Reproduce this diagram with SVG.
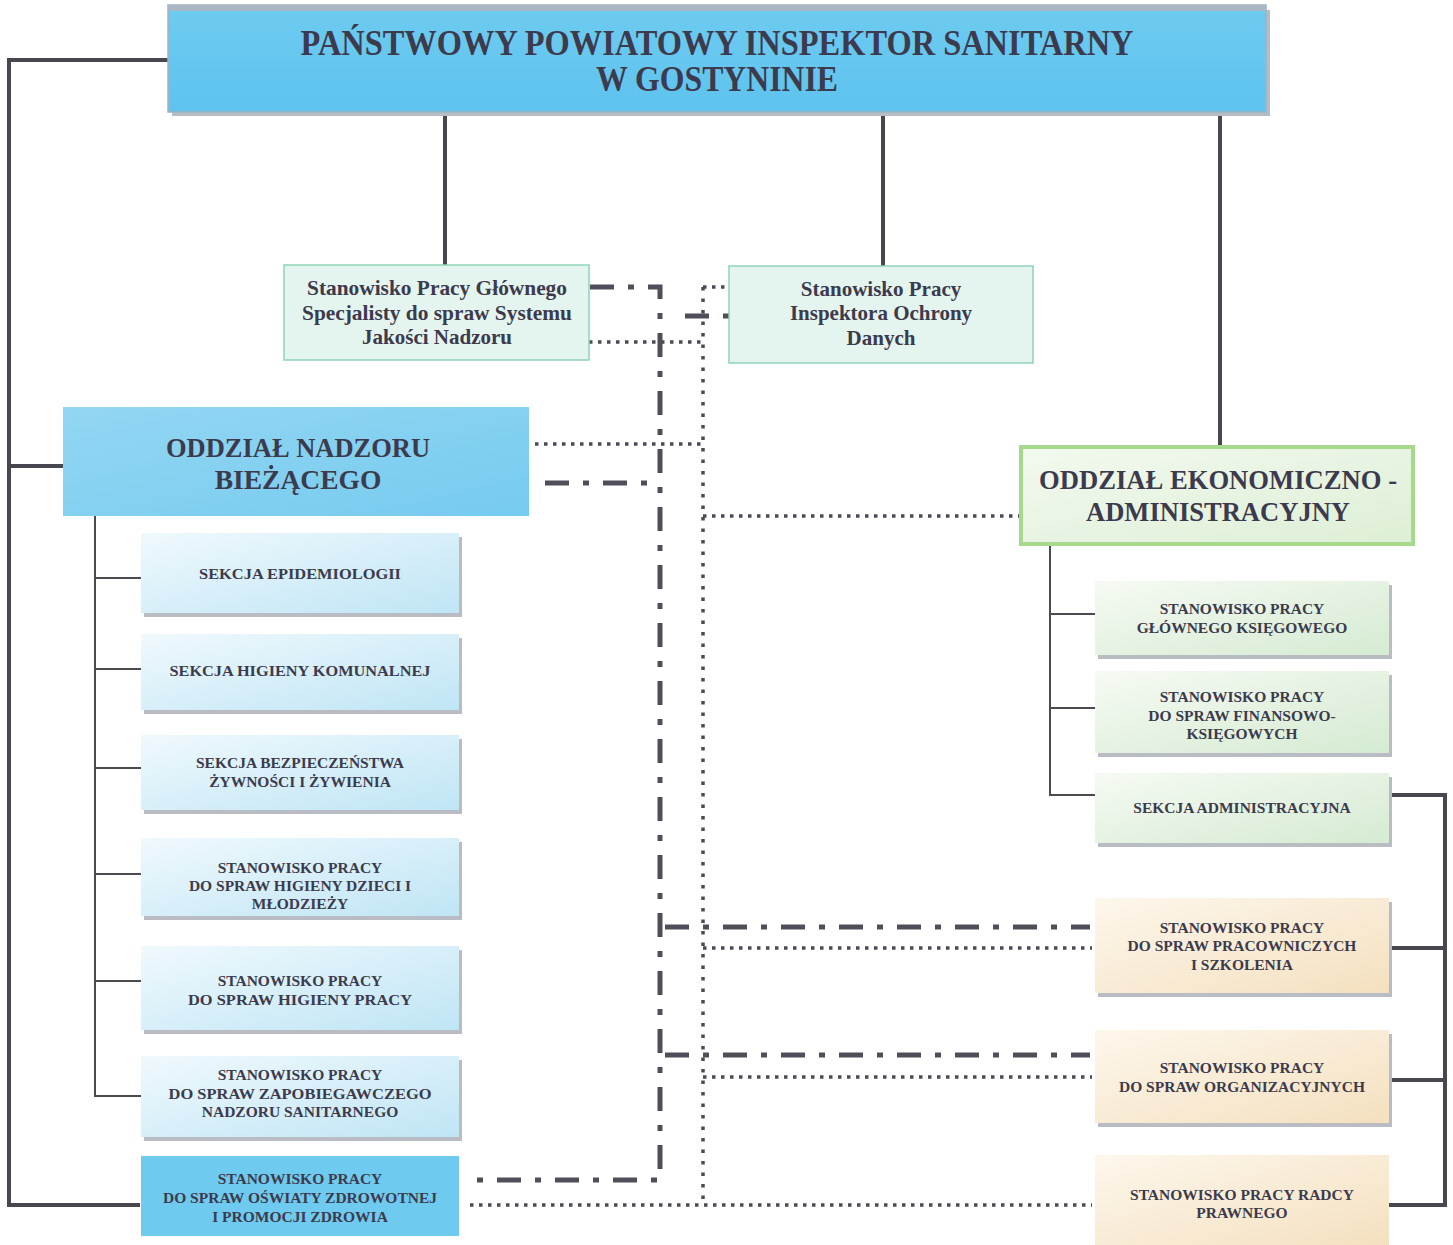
<svg xmlns="http://www.w3.org/2000/svg" width="1453" height="1245" viewBox="0 0 1453 1245">
<defs>
<linearGradient id="gBlue" x1="0" y1="0" x2="1" y2="1"><stop offset="0" stop-color="#f0f9fd"/><stop offset="1" stop-color="#bfe5f5"/></linearGradient>
<linearGradient id="gGreen" x1="0" y1="0" x2="1" y2="1"><stop offset="0" stop-color="#f6faf3"/><stop offset="1" stop-color="#d5ebd2"/></linearGradient>
<linearGradient id="gOrange" x1="0" y1="0" x2="1" y2="1"><stop offset="0" stop-color="#fdf7ec"/><stop offset="1" stop-color="#f4e0bf"/></linearGradient>
<linearGradient id="gHead" x1="0" y1="0" x2="0" y2="1"><stop offset="0" stop-color="#6ecbf0"/><stop offset="1" stop-color="#5ec3ee"/></linearGradient>
<linearGradient id="gNadzor" x1="0" y1="0" x2="1" y2="1"><stop offset="0" stop-color="#93d6f2"/><stop offset="1" stop-color="#76cbef"/></linearGradient>
<linearGradient id="gEkon" x1="0" y1="0" x2="1" y2="1"><stop offset="0" stop-color="#f3f9ef"/><stop offset="1" stop-color="#ddefd6"/></linearGradient>
</defs>
<style>
text{font-family:"Liberation Serif","Times New Roman",serif;font-weight:bold;fill:#3c3a4c;text-anchor:middle}
.t32{font-size:35px}
.t26{font-size:27.5px}
.t21{font-size:21px}
.t15{font-size:15.5px}
.shadow{fill:#b9bcc2}
.solid{stroke:#47474f;stroke-width:4;fill:none}
.thin{stroke:#4a4a52;stroke-width:2;fill:none}
.dot{stroke:#4b4b55;stroke-width:3.5;fill:none;stroke-dasharray:3.5 5.5}
.dotv{stroke:#4b4b55;stroke-width:3.5;fill:none;stroke-dasharray:3.5 8}
.dd{stroke:#4f4f5a;stroke-width:5;fill:none;stroke-dasharray:24 14 6 14}
</style>

<g id="connectors">
  <polyline class="solid" points="168,60 9,60 9,1205 140,1205"/>
  <line class="solid" x1="9" y1="466" x2="63" y2="466"/>
  <line class="solid" x1="445" y1="113" x2="445" y2="265"/>
  <line class="solid" x1="883" y1="113" x2="883" y2="266"/>
  <line class="solid" x1="1220" y1="113" x2="1220" y2="445"/>
  <polyline class="thin" points="95,516 95,1096 141,1096"/>
  <line class="thin" x1="95" y1="578" x2="141" y2="578"/>
  <line class="thin" x1="95" y1="669" x2="141" y2="669"/>
  <line class="thin" x1="95" y1="768" x2="141" y2="768"/>
  <line class="thin" x1="95" y1="874" x2="141" y2="874"/>
  <line class="thin" x1="95" y1="981" x2="141" y2="981"/>
  <polyline class="thin" points="1050,545 1050,795 1095,795"/>
  <line class="thin" x1="1050" y1="614" x2="1095" y2="614"/>
  <line class="thin" x1="1050" y1="708" x2="1095" y2="708"/>
  <polyline class="solid" points="1389,795 1445,795 1445,1205 1389,1205"/>
  <line class="solid" x1="1389" y1="948" x2="1445" y2="948"/>
  <line class="solid" x1="1389" y1="1080" x2="1445" y2="1080"/>
  <!-- dash-dot -->
  <polyline class="dd" points="590,287 660,287 660,1180 470,1180"/>
  <line class="dd" x1="685" y1="316" x2="729" y2="316"/>
  <line class="dd" x1="545" y1="483" x2="660" y2="483"/>
  <line class="dd" x1="665" y1="927" x2="1090" y2="927"/>
  <line class="dd" x1="665" y1="1055" x2="1090" y2="1055"/>
  <!-- dotted -->
  <line class="dotv" x1="703" y1="287" x2="703" y2="1205"/>
  <line class="dot" x1="703" y1="287" x2="729" y2="287"/>
  <line class="dot" x1="589" y1="342" x2="703" y2="342"/>
  <line class="dot" x1="535" y1="444" x2="703" y2="444"/>
  <line class="dot" x1="703" y1="516" x2="1019" y2="516"/>
  <line class="dot" x1="703" y1="948" x2="1092" y2="948"/>
  <line class="dot" x1="703" y1="1077" x2="1092" y2="1077"/>
  <line class="dot" x1="470" y1="1205" x2="1092" y2="1205"/>
</g>

<g id="n-head">
  <rect x="172" y="10" width="1098" height="106" fill="#b5bcc4"/>
  <rect x="168" y="5" width="1098" height="107" fill="url(#gHead)" stroke="#9fb3c3" stroke-width="1.5"/>
  <rect x="168" y="5" width="1098" height="6" fill="#aab8c6"/>
  <text class="t32" x="717" y="55" textLength="833" lengthAdjust="spacingAndGlyphs">PAŃSTWOWY POWIATOWY INSPEKTOR SANITARNY</text>
  <text class="t32" x="717" y="91" textLength="242" lengthAdjust="spacingAndGlyphs">W GOSTYNINIE</text>
</g>

<g id="n-jakosc">
  <rect x="284" y="265" width="305" height="95" fill="#e4f4ef" stroke="#8ed3b6" stroke-width="1.5"/>
  <text class="t21" x="437" y="295" textLength="260" lengthAdjust="spacingAndGlyphs">Stanowisko Pracy Głównego</text>
  <text class="t21" x="437" y="320" textLength="270" lengthAdjust="spacingAndGlyphs">Specjalisty do spraw Systemu</text>
  <text class="t21" x="437" y="344">Jakości Nadzoru</text>
</g>

<g id="n-iod">
  <rect x="729" y="266" width="304" height="97" fill="#e4f4ef" stroke="#8ed3b6" stroke-width="1.5"/>
  <text class="t21" x="881" y="296">Stanowisko Pracy</text>
  <text class="t21" x="881" y="320">Inspektora Ochrony</text>
  <text class="t21" x="881" y="345">Danych</text>
</g>

<g id="n-nadzor">
  <rect x="63" y="407" width="466" height="109" fill="url(#gNadzor)"/>
  <text class="t26" x="298" y="457" textLength="264" lengthAdjust="spacingAndGlyphs">ODDZIAŁ NADZORU</text>
  <text class="t26" x="298" y="489">BIEŻĄCEGO</text>
</g>

<g id="n-ekon">
  <rect x="1021" y="447" width="392" height="97" fill="url(#gEkon)" stroke="#a7d98c" stroke-width="4"/>
  <text class="t26" x="1218" y="489" textLength="358" lengthAdjust="spacingAndGlyphs">ODDZIAŁ EKONOMICZNO -</text>
  <text class="t26" x="1218" y="521" textLength="264" lengthAdjust="spacingAndGlyphs">ADMINISTRACYJNY</text>
</g>

<!-- left column -->
<g id="n-epid">
  <rect x="144" y="537" width="318" height="80" class="shadow"/>
  <rect x="141" y="533" width="318" height="80" fill="url(#gBlue)"/>
  <text class="t15" x="300" y="579" textLength="202" lengthAdjust="spacingAndGlyphs">SEKCJA  EPIDEMIOLOGII</text>
</g>
<g id="n-komunalna">
  <rect x="144" y="638" width="318" height="76" class="shadow"/>
  <rect x="141" y="634" width="318" height="76" fill="url(#gBlue)"/>
  <text class="t15" x="300" y="676" textLength="261" lengthAdjust="spacingAndGlyphs">SEKCJA  HIGIENY KOMUNALNEJ</text>
</g>
<g id="n-zywnosc">
  <rect x="144" y="739" width="318" height="75" class="shadow"/>
  <rect x="141" y="735" width="318" height="75" fill="url(#gBlue)"/>
  <text class="t15" x="300" y="768">SEKCJA BEZPIECZEŃSTWA</text>
  <text class="t15" x="300" y="787">ŻYWNOŚCI I ŻYWIENIA</text>
</g>
<g id="n-dzieci">
  <rect x="144" y="842" width="318" height="78" class="shadow"/>
  <rect x="141" y="838" width="318" height="78" fill="url(#gBlue)"/>
  <text class="t15" x="300" y="873">STANOWISKO PRACY</text>
  <text class="t15" x="300" y="891">DO SPRAW HIGIENY DZIECI I</text>
  <text class="t15" x="300" y="909">MŁODZIEŻY</text>
</g>
<g id="n-hpracy">
  <rect x="144" y="950" width="318" height="84" class="shadow"/>
  <rect x="141" y="946" width="318" height="84" fill="url(#gBlue)"/>
  <text class="t15" x="300" y="986">STANOWISKO PRACY</text>
  <text class="t15" x="300" y="1005" textLength="224" lengthAdjust="spacingAndGlyphs">DO SPRAW  HIGIENY PRACY</text>
</g>
<g id="n-zapob">
  <rect x="144" y="1060" width="318" height="81" class="shadow"/>
  <rect x="141" y="1056" width="318" height="81" fill="url(#gBlue)"/>
  <text class="t15" x="300" y="1080">STANOWISKO PRACY</text>
  <text class="t15" x="300" y="1099" textLength="263" lengthAdjust="spacingAndGlyphs">DO SPRAW  ZAPOBIEGAWCZEGO</text>
  <text class="t15" x="300" y="1117">NADZORU SANITARNEGO</text>
</g>
<g id="n-oswiata">
  <rect x="141" y="1156" width="318" height="80" fill="#6ecaef"/>
  <text class="t15" x="300" y="1184">STANOWISKO PRACY</text>
  <text class="t15" x="300" y="1203">DO SPRAW OŚWIATY ZDROWOTNEJ</text>
  <text class="t15" x="300" y="1222">I PROMOCJI ZDROWIA</text>
</g>

<!-- right column -->
<g id="n-ksiegowy">
  <rect x="1098" y="585" width="294" height="74" class="shadow"/>
  <rect x="1095" y="581" width="294" height="74" fill="url(#gGreen)"/>
  <text class="t15" x="1242" y="614">STANOWISKO PRACY</text>
  <text class="t15" x="1242" y="633">GŁÓWNEGO KSIĘGOWEGO</text>
</g>
<g id="n-finanse">
  <rect x="1098" y="675" width="294" height="82" class="shadow"/>
  <rect x="1095" y="671" width="294" height="82" fill="url(#gGreen)"/>
  <text class="t15" x="1242" y="702">STANOWISKO  PRACY</text>
  <text class="t15" x="1242" y="721">DO SPRAW FINANSOWO-</text>
  <text class="t15" x="1242" y="739">KSIĘGOWYCH</text>
</g>
<g id="n-admin">
  <rect x="1098" y="777" width="294" height="70" class="shadow"/>
  <rect x="1095" y="773" width="294" height="70" fill="url(#gGreen)"/>
  <text class="t15" x="1242" y="813">SEKCJA ADMINISTRACYJNA</text>
</g>
<g id="n-kadry">
  <rect x="1098" y="902" width="294" height="95" class="shadow"/>
  <rect x="1095" y="898" width="294" height="95" fill="url(#gOrange)"/>
  <text class="t15" x="1242" y="933">STANOWISKO PRACY</text>
  <text class="t15" x="1242" y="951">DO SPRAW PRACOWNICZYCH</text>
  <text class="t15" x="1242" y="970">I SZKOLENIA</text>
</g>
<g id="n-org">
  <rect x="1098" y="1034" width="294" height="93" class="shadow"/>
  <rect x="1095" y="1030" width="294" height="93" fill="url(#gOrange)"/>
  <text class="t15" x="1242" y="1073">STANOWISKO PRACY</text>
  <text class="t15" x="1242" y="1092">DO SPRAW ORGANIZACYJNYCH</text>
</g>
<g id="n-radca">
  <rect x="1095" y="1155" width="294" height="92" fill="url(#gOrange)"/>
  <text class="t15" x="1242" y="1200">STANOWISKO PRACY RADCY</text>
  <text class="t15" x="1242" y="1218">PRAWNEGO</text>
</g>
</svg>
